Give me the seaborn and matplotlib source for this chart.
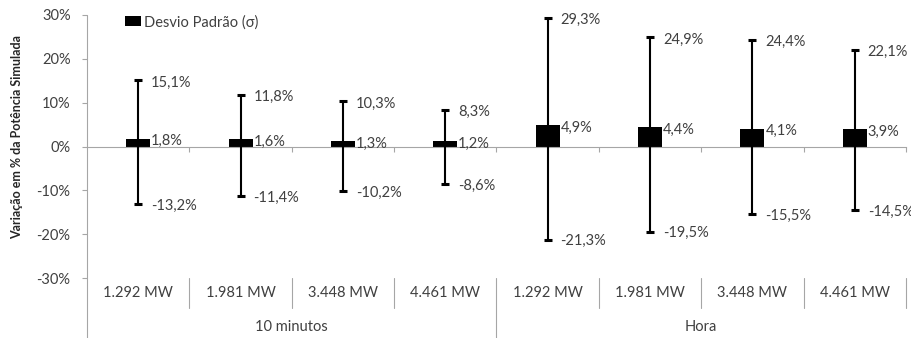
import matplotlib
matplotlib.use("Agg")
import matplotlib.pyplot as plt
import matplotlib.transforms as mtransforms
from matplotlib.ticker import FixedLocator, NullFormatter
import seaborn as sns
import pandas as pd

# Dados: variação da potência simulada por período de integração e potência instalada
groups = ["10 minutos"] * 4 + ["Hora"] * 4
capacities = ["1.292 MW", "1.981 MW", "3.448 MW", "4.461 MW"] * 2
std_dev = [1.8, 1.6, 1.3, 1.2, 4.9, 4.4, 4.1, 3.9]
max_var = [15.1, 11.8, 10.3, 8.3, 29.3, 24.9, 24.4, 22.1]
min_var = [-13.2, -11.4, -10.2, -8.6, -21.3, -19.5, -15.5, -14.5]
y_ticks = [-30, -20, -10, 0, 10, 20, 30]
legend_label = "Desvio Padrão (σ)"
y_label = "Variação em % da Potência Simulada"

df = pd.DataFrame({
    "grupo": groups,
    "potencia": capacities,
    "sigma": std_dev,
    "max": max_var,
    "min": min_var,
})
df["chave"] = df["grupo"] + " | " + df["potencia"]

sns.set_theme(style="white")
plt.rcParams["font.family"] = ["Lato", "DejaVu Sans"]

AXIS_GRAY = "#a6a6a6"
TEXT = "#404040"
FS = 10.5

W, H = 912, 338
fig = plt.figure(figsize=(W / 100, H / 100), dpi=100)
ax = fig.add_axes([87 / W, 1 - 278 / H, (906 - 87) / W, (278 - 15) / H])

# Caixas do desvio padrão (de 0 até σ)
sns.barplot(data=df, x="chave", y="sigma", color="black", saturation=1,
            width=0.234, errorbar=None, label=legend_label, ax=ax,
            linewidth=0)

# Faixa mínima / máxima
pos = list(range(len(df)))
ax.errorbar(pos, df["sigma"],
            yerr=[df["sigma"] - df["min"], df["max"] - df["sigma"]],
            fmt="none", ecolor="black", elinewidth=1.5, capsize=2.6,
            capthick=2.2, zorder=3)

def fmt(v):
    return f"{v:.1f}%".replace(".", ",")

for i, row in df.iterrows():
    for val, dy in ((row["max"], -1.5), (row["sigma"], -2.0), (row["min"], -1.0)):
        ax.annotate(fmt(val), xy=(i, val), xytext=(9.3, dy),
                    textcoords="offset points", ha="left", va="center",
                    fontsize=FS, color=TEXT, zorder=4)

ax.set_xlim(-0.5, len(df) - 0.5)
ax.set_ylim(-30, 30)
ax.set_xlabel("")
ax.set_ylabel("")

# Eixo Y
ax.set_yticks(y_ticks)
ax.set_yticklabels([f"{t}%" for t in y_ticks])
ax.tick_params(axis="y", which="major", left=True, length=3.8, width=0.8,
               color=AXIS_GRAY, pad=8, labelsize=FS, labelcolor=TEXT)

# Eixo X na linha do zero, com marcas entre categorias
for s in ("top", "right", "left"):
    ax.spines[s].set_visible(False)
ax.spines["bottom"].set_position(("data", 0))
ax.spines["bottom"].set_color(AXIS_GRAY)
ax.spines["bottom"].set_linewidth(0.8)
ax.xaxis.set_major_locator(FixedLocator(pos))
ax.xaxis.set_major_formatter(NullFormatter())
ax.xaxis.set_minor_locator(FixedLocator([p + 0.5 for p in pos]))
ax.tick_params(axis="x", which="major", bottom=False, length=0)
ax.tick_params(axis="x", which="minor", bottom=True, direction="out",
               length=3.8, width=0.8, color=AXIS_GRAY)

# Rótulos de categoria em dois níveis
blend = mtransforms.blended_transform_factory(ax.transData, ax.transAxes)
ax.plot([-0.5, -0.5], [1, -0.229], transform=blend, color=AXIS_GRAY,
        lw=0.8, clip_on=False)
for p in pos:
    ax.text(p, -0.058, df["potencia"][p], transform=blend, ha="center",
            va="center", fontsize=FS, color=TEXT)
    bottom = -0.229 if p in (3,) else -0.114
    ax.plot([p + 0.5, p + 0.5], [0, bottom], transform=blend,
            color=AXIS_GRAY, lw=0.8, clip_on=False)
group_names = list(dict.fromkeys(groups))
for g in group_names:
    idx = [p for p in pos if groups[p] == g]
    ax.text((idx[0] + idx[-1]) / 2, -0.186, g, transform=blend,
            ha="center", va="center", fontsize=FS, color=TEXT)

fig.text(17 / W, 1 - 137 / H, y_label, rotation=90, ha="center",
         va="center", fontsize=9.0, fontweight="bold", color="#262626")

ax.legend(loc="upper left", bbox_to_anchor=(0.047, 1.0), frameon=False,
          borderpad=0, borderaxespad=0, handlelength=1.05, handleheight=0.7,
          handletextpad=0.25, fontsize=FS, labelcolor=TEXT)

fig.savefig("out.png", dpi=100)
